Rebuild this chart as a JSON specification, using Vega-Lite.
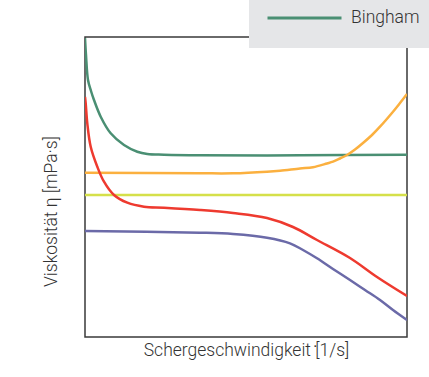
{
  "$schema": "https://vega.github.io/schema/vega-lite/v6.json",
  "width": 322,
  "height": 300,
  "autosize": {"type": "none"},
  "padding": {"left": 85, "top": 37, "right": 22, "bottom": 40},
  "background": "white",
  "config": {
    "view": {"stroke": "#3a3a3a", "strokeWidth": 1.5},
    "font": "Roboto"
  },
  "data": {
    "values": [
      {"s": "Bingham", "x": 0, "y": 299}, {"s": "Bingham", "x": 1, "y": 282}, {"s": "Bingham", "x": 3, "y": 257}, {"s": "Bingham", "x": 6, "y": 246}, {"s": "Bingham", "x": 9, "y": 237}, {"s": "Bingham", "x": 15.7, "y": 220.3}, {"s": "Bingham", "x": 25.7, "y": 203.7}, {"s": "Bingham", "x": 39, "y": 192}, {"s": "Bingham", "x": 52.3, "y": 185.3}, {"s": "Bingham", "x": 62.3, "y": 183}, {"s": "Bingham", "x": 79, "y": 182.3}, {"s": "Bingham", "x": 115, "y": 181.7}, {"s": "Bingham", "x": 215, "y": 181.7}, {"s": "Bingham", "x": 322, "y": 182.3},
      {"s": "Dilatant", "x": 0, "y": 164.3}, {"s": "Dilatant", "x": 115, "y": 163.7}, {"s": "Dilatant", "x": 148, "y": 163.7}, {"s": "Dilatant", "x": 182, "y": 165.3}, {"s": "Dilatant", "x": 195, "y": 166.3}, {"s": "Dilatant", "x": 215, "y": 168.5}, {"s": "Dilatant", "x": 228, "y": 169.7}, {"s": "Dilatant", "x": 242, "y": 173.5}, {"s": "Dilatant", "x": 248, "y": 175.3}, {"s": "Dilatant", "x": 255, "y": 178.5}, {"s": "Dilatant", "x": 262, "y": 182}, {"s": "Dilatant", "x": 270, "y": 187.5}, {"s": "Dilatant", "x": 278, "y": 194}, {"s": "Dilatant", "x": 287, "y": 202}, {"s": "Dilatant", "x": 295, "y": 210.3}, {"s": "Dilatant", "x": 308, "y": 225.3}, {"s": "Dilatant", "x": 315, "y": 234}, {"s": "Dilatant", "x": 322, "y": 243},
      {"s": "Newton", "x": 0, "y": 142}, {"s": "Newton", "x": 322, "y": 142},
      {"s": "Herschel-Bulkley", "x": 0, "y": 240}, {"s": "Herschel-Bulkley", "x": 0.7, "y": 233.7}, {"s": "Herschel-Bulkley", "x": 2.3, "y": 213.7}, {"s": "Herschel-Bulkley", "x": 5.7, "y": 190.3}, {"s": "Herschel-Bulkley", "x": 12.3, "y": 170.3}, {"s": "Herschel-Bulkley", "x": 19, "y": 155.3}, {"s": "Herschel-Bulkley", "x": 29, "y": 142}, {"s": "Herschel-Bulkley", "x": 42.3, "y": 134.3}, {"s": "Herschel-Bulkley", "x": 59, "y": 130.3}, {"s": "Herschel-Bulkley", "x": 79, "y": 129.3}, {"s": "Herschel-Bulkley", "x": 115, "y": 127}, {"s": "Herschel-Bulkley", "x": 148, "y": 124}, {"s": "Herschel-Bulkley", "x": 182, "y": 119}, {"s": "Herschel-Bulkley", "x": 208, "y": 110}, {"s": "Herschel-Bulkley", "x": 232, "y": 97}, {"s": "Herschel-Bulkley", "x": 265, "y": 79}, {"s": "Herschel-Bulkley", "x": 292, "y": 60}, {"s": "Herschel-Bulkley", "x": 322, "y": 41},
      {"s": "Strukturviskos", "x": 0, "y": 106}, {"s": "Strukturviskos", "x": 115, "y": 104.3}, {"s": "Strukturviskos", "x": 148, "y": 103}, {"s": "Strukturviskos", "x": 182, "y": 99.3}, {"s": "Strukturviskos", "x": 205, "y": 93.7}, {"s": "Strukturviskos", "x": 218, "y": 87}, {"s": "Strukturviskos", "x": 232, "y": 78.7}, {"s": "Strukturviskos", "x": 248, "y": 68}, {"s": "Strukturviskos", "x": 265, "y": 57}, {"s": "Strukturviskos", "x": 280, "y": 47}, {"s": "Strukturviskos", "x": 295, "y": 37}, {"s": "Strukturviskos", "x": 308, "y": 27}, {"s": "Strukturviskos", "x": 322, "y": 17}
    ]
  },
  "mark": {"type": "line", "strokeWidth": 2.5, "interpolate": "catmull-rom", "clip": true},
  "encoding": {
    "x": {
      "field": "x", "type": "quantitative",
      "scale": {"domain": [0, 322], "nice": false, "zero": false},
      "axis": {
        "title": "Schergeschwindigkeit \u0307[1/s]",
        "domain": false, "ticks": false, "labels": false, "grid": false,
        "titleFont": "Roboto", "titleFontWeight": 300, "titleFontSize": 17.5,
        "titleColor": "#333333", "titlePadding": 4
      }
    },
    "y": {
      "field": "y", "type": "quantitative",
      "scale": {"domain": [0, 300], "nice": false, "zero": false},
      "axis": {
        "title": "Viskosität η [mPa·s]",
        "domain": false, "ticks": false, "labels": false, "grid": false,
        "titleFont": "Roboto", "titleFontWeight": 300, "titleFontSize": 17.5,
        "titleColor": "#333333", "titlePadding": 25, "titleY": 174
      }
    },
    "color": {
      "field": "s", "type": "nominal",
      "scale": {
        "domain": ["Bingham", "Dilatant", "Newton", "Herschel-Bulkley", "Strukturviskos"],
        "range": ["#4a8f73", "#fbb03f", "#d5e04a", "#ee3a2f", "#6b6aa8"]
      },
      "legend": {
        "values": ["Bingham"],
        "title": null,
        "orient": "none",
        "legendX": 164,
        "legendY": -49,
        "fillColor": "#e5e6e8",
        "padding": 17,
        "clipHeight": 26,
        "symbolType": "stroke",
        "symbolSize": 5476,
        "symbolStrokeWidth": 3,
        "labelFont": "Roboto",
        "labelFontWeight": 300,
        "labelFontSize": 17.5,
        "labelColor": "#333333",
        "labelOffset": 8
      }
    }
  }
}
